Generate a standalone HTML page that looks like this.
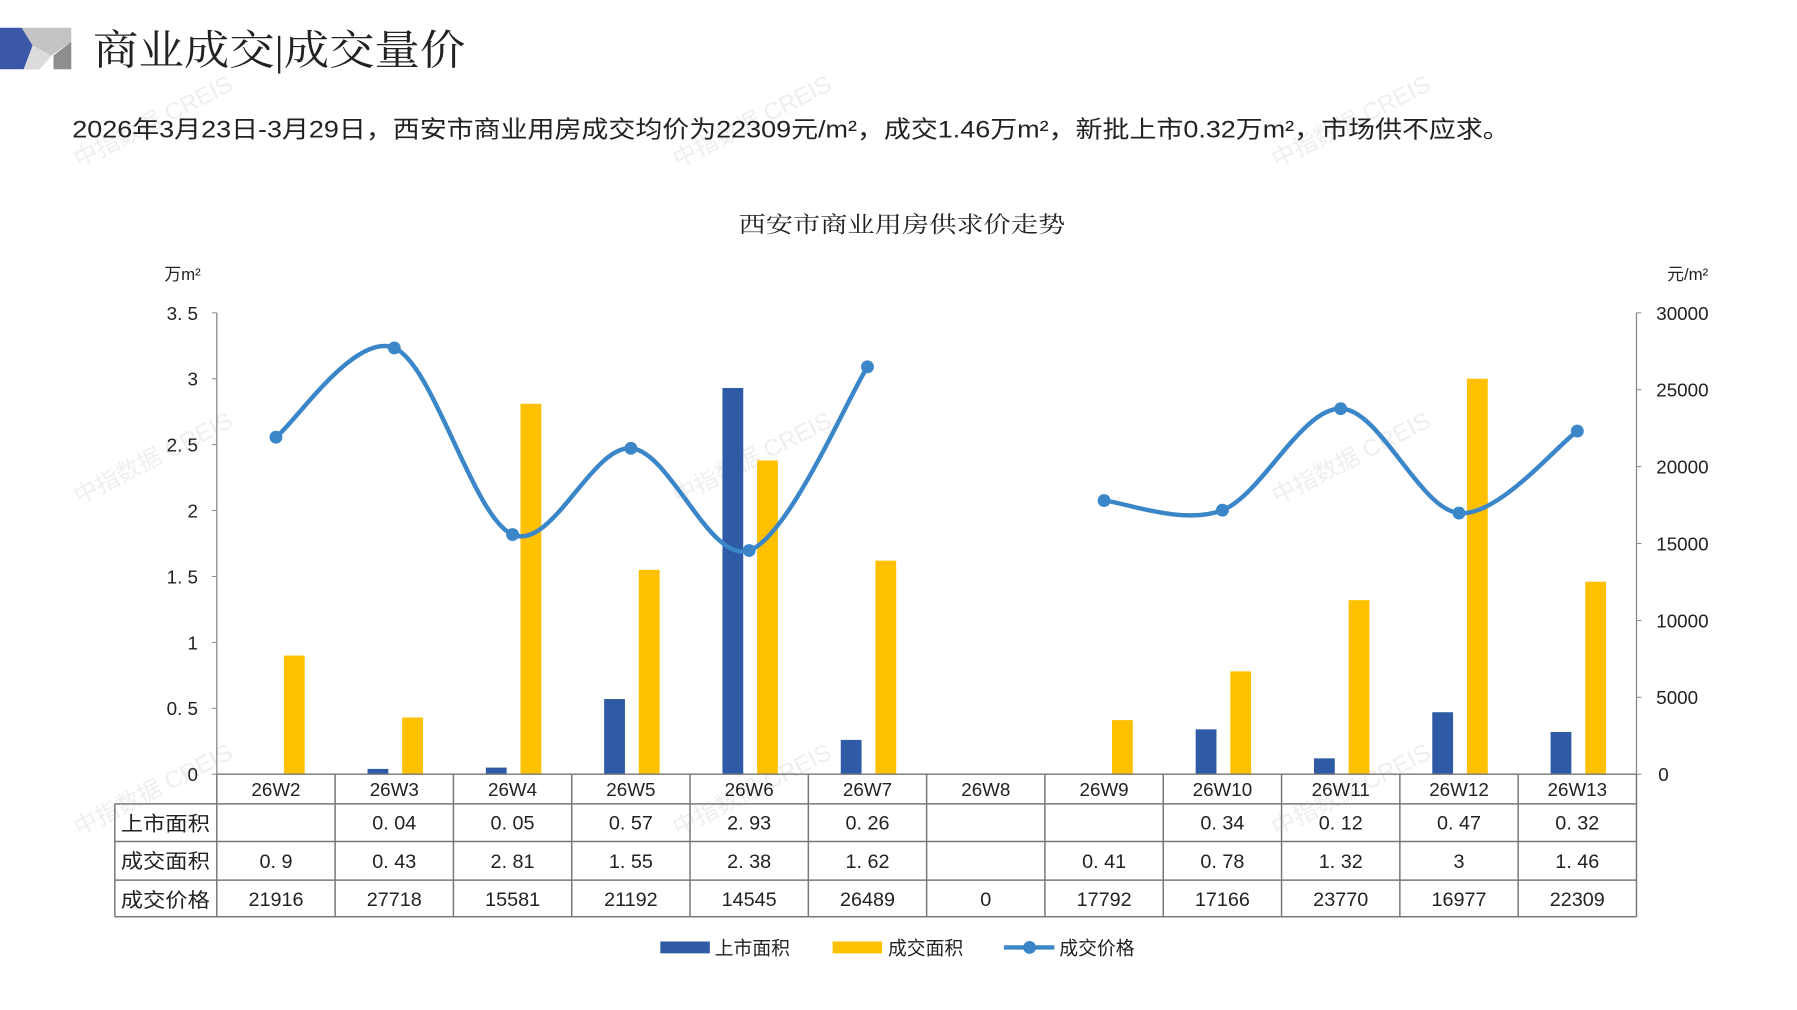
<!DOCTYPE html>
<html><head><meta charset="utf-8"><style>
html,body{margin:0;padding:0;background:#fff;}
svg{display:block;}
text{font-family:"Liberation Sans","Noto Sans CJK SC",sans-serif;fill:#222;}
.serif{font-family:"Liberation Serif","Noto Serif CJK SC",serif;}
</style></head><body>
<svg id="s" width="1797" height="1010" viewBox="0 0 1797 1010" xmlns="http://www.w3.org/2000/svg">
<g transform="scale(0.99)">
<polygon points="0,28 22,28 33,46 24,70 0,70" fill="#3b58a8"/>
<polygon points="22,28 72,28 72,42 52,56 40,70 24,70 33,46" fill="#c4c4c4"/>
<polygon points="33,46 52,56 40,70 24,70" fill="#dcdcdc"/>
<polygon points="72,42 72,70 54,70 54,56" fill="#8e8e8e"/>
<text class="serif" x="94" y="65" font-size="42" textLength="376" lengthAdjust="spacingAndGlyphs" fill="#111">商业成交|成交量价</text>
<text x="73" y="139" font-size="24" textLength="1452" lengthAdjust="spacingAndGlyphs">2026年3月23日-3月29日，西安市商业用房成交均价为22309元/m²，成交1.46万m²，新批上市0.32万m²，市场供不应求。</text>
<text class="serif" x="911" y="235" font-size="23" text-anchor="middle" textLength="330" lengthAdjust="spacingAndGlyphs">西安市商业用房供求价走势</text>
<text x="166" y="283" font-size="17">万m²</text>
<text x="1684" y="283" font-size="17">元/m²</text>
<g id="g"></g>
</g>
</svg>
<script>
var g=document.getElementById('g'),h='';
var L=219,R=1653,T=316,B=782,cw=(R-L)/12;
var cats=['26W2','26W3','26W4','26W5','26W6','26W7','26W8','26W9','26W10','26W11','26W12','26W13'];
var sup=[null,0.04,0.05,0.57,2.93,0.26,null,null,0.34,0.12,0.47,0.32];
var deal=[0.9,0.43,2.81,1.55,2.38,1.62,null,0.41,0.78,1.32,3,1.46];
var price=[21916,27718,15581,21192,14545,26489,0,17792,17166,23770,16977,22309];
function yl(v){return B-v*(B-T)/3.5}
function yr(v){return B-v*(B-T)/30000}
[[80,170],[685,170],[1290,170],[80,510],[685,510],[1290,510],[80,845],[685,845],[1290,845]].forEach(function(p){
h+='<text x="'+p[0]+'" y="'+p[1]+'" font-size="24" fill="#000" opacity="0.07" transform="rotate(-27 '+p[0]+' '+p[1]+')">中指数据 CREIS</text>';});
h+='<line x1="'+L+'" y1="'+T+'" x2="'+L+'" y2="'+B+'" stroke="#888" stroke-width="1.3"/>';
h+='<line x1="'+R+'" y1="'+T+'" x2="'+R+'" y2="'+B+'" stroke="#888" stroke-width="1.3"/>';
for(var i=0;i<=7;i++){var v=i*0.5,y=yl(v);h+='<line x1="'+(L-5)+'" y1="'+y+'" x2="'+L+'" y2="'+y+'" stroke="#888"/>';
h+='<text x="200" y="'+(y+7)+'" font-size="19" text-anchor="end">'+(v==0?'0':String(v).replace('.', '. '))+'</text>';}
for(var i=0;i<=6;i++){var v=i*5000,y=yr(v);h+='<line x1="'+R+'" y1="'+y+'" x2="'+(R+5)+'" y2="'+y+'" stroke="#888"/>';
h+='<text x="'+(v==0?1675:1673)+'" y="'+(y+7)+'" font-size="19">'+v+'</text>';}
for(var i=0;i<12;i++){var c=L+cw*(i+0.5);
if(sup[i]!=null)h+='<rect x="'+(c-27)+'" y="'+yl(sup[i])+'" width="21" height="'+(B-yl(sup[i]))+'" fill="#2e5aa6"/>';
if(deal[i]!=null)h+='<rect x="'+(c+8)+'" y="'+yl(deal[i])+'" width="21" height="'+(B-yl(deal[i]))+'" fill="#ffc000"/>';}
function seg(idx){var p=idx.map(function(i){return [L+cw*(i+0.5),yr(price[i])]});
var d='M'+p[0][0]+','+p[0][1];
for(var k=0;k<p.length-1;k++){var p0=p[k-1]||p[k],p1=p[k],p2=p[k+1],p3=p[k+2]||p2;
var c1=[p1[0]+(p2[0]-p0[0])/6,p1[1]+(p2[1]-p0[1])/6],c2=[p2[0]-(p3[0]-p1[0])/6,p2[1]-(p3[1]-p1[1])/6];
d+=' C'+c1+' '+c2+' '+p2;}
h+='<path d="'+d+'" fill="none" stroke="#3a86c8" stroke-width="4.5"/>';
p.forEach(function(q){h+='<circle cx="'+q[0]+'" cy="'+q[1]+'" r="6.5" fill="#3a86c8"/>';});}
seg([0,1,2,3,4,5]);seg([7,8,9,10,11]);
var rows=[782,812,850,889,926];var st='stroke="#777" stroke-width="1.5"';
h+='<line x1="'+L+'" y1="782" x2="'+R+'" y2="782" '+st+'/>';
for(var r=1;r<5;r++)h+='<line x1="116" y1="'+rows[r]+'" x2="'+R+'" y2="'+rows[r]+'" '+st+'/>';
h+='<line x1="116" y1="812" x2="116" y2="926" '+st+'/>';
for(var i=0;i<=12;i++){var x=L+cw*i;h+='<line x1="'+x+'" y1="782" x2="'+x+'" y2="926" '+st+'/>';}
var labs=['上市面积','成交面积','成交价格'];
for(var r=0;r<3;r++)h+='<text x="122" y="'+(rows[r+1]+27)+'" font-size="20" textLength="90" lengthAdjust="spacingAndGlyphs">'+labs[r]+'</text>';
function fmt(v){if(v==null)return '';var s=String(v);return s.indexOf('.')>=0?s.replace('.', '. '):s;}
for(var i=0;i<12;i++){var c=L+cw*(i+0.5);
h+='<text x="'+c+'" y="804" font-size="19" text-anchor="middle">'+cats[i]+'</text>';
h+='<text x="'+c+'" y="838" font-size="20" text-anchor="middle">'+fmt(sup[i])+'</text>';
h+='<text x="'+c+'" y="877" font-size="20" text-anchor="middle">'+fmt(deal[i])+'</text>';
h+='<text x="'+c+'" y="915" font-size="20" text-anchor="middle">'+price[i]+'</text>';}
h+='<rect x="667" y="951" width="50" height="12" fill="#2e5aa6"/><text x="722" y="964" font-size="19">上市面积</text>';
h+='<rect x="841" y="951" width="50" height="12" fill="#ffc000"/><text x="897" y="964" font-size="19">成交面积</text>';
h+='<line x1="1014" y1="957" x2="1065" y2="957" stroke="#3a86c8" stroke-width="4.5"/><circle cx="1040" cy="957" r="6.5" fill="#3a86c8"/><text x="1070" y="964" font-size="19">成交价格</text>';
g.innerHTML=h;
</script>
</body></html>
